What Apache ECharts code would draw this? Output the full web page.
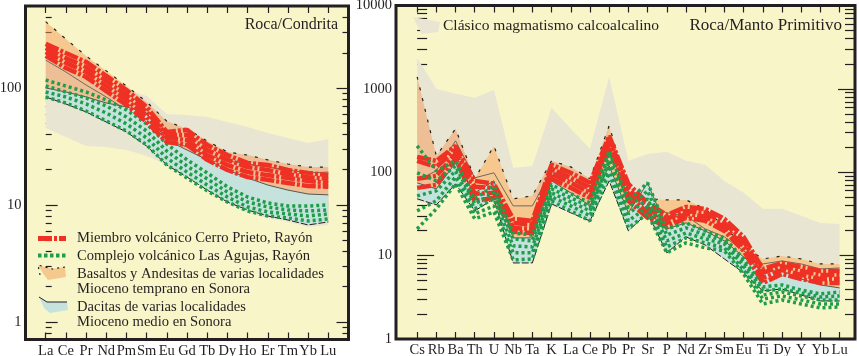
<!DOCTYPE html>
<html>
<head>
<meta charset="utf-8">
<script src="https://cdn.jsdelivr.net/npm/echarts@6/dist/echarts.min.js"></script>
<style>
html, body { margin: 0; padding: 0; background: #fff; }
#main { width: 859px; height: 356px; }
</style>
</head>
<body>
<div id="main"></div>
<script>
// ---- left panel: REE / chondrite ----
var reeLabels = ['La','Ce','Pr','Nd','Pm','Sm','Eu','Gd','Tb','Dy','Ho','Er','Tm','Yb','Lu'];

var reeCerroPrieto = [
    [238, 199, 167, 127, 96, 68.8, 42.1, 43.8, 32.6, 26.7, 22.9, 22.0, 19.9, 18.8, 18.0],
    [220, 180, 151, 115, 87, 62.4, 39.7, 39.7, 29.5, 24.3, 21.1, 19.9, 18.4, 17.3, 16.7],
    [203, 164, 137, 104, 79, 56.5, 37.4, 35.9, 26.7, 22.0, 19.1, 18.0, 17.0, 16.0, 15.4],
    [188, 148, 124, 94, 71.6, 51.2, 34.5, 32.6, 24.3, 19.9, 17.3, 16.4, 15.4, 14.5, 14.3]
];
var reeLasAgujas = [
    [117, 104, 92.4, 79.0, 64.9, 49.3, 33.2, 24.3, 18.8, 14.3, 11.7, 10.4, 9.80, 9.80, 10.0],
    [104, 92.4, 82.1, 70.2, 56.5, 42.9, 28.9, 21.5, 16.7, 12.9, 10.6, 9.61, 9.06, 8.89, 9.06],
    [92.4, 83.8, 73.0, 61.1, 49.3, 37.4, 25.2, 19.1, 14.8, 11.7, 9.61, 8.72, 8.38, 8.05, 8.38],
    [83.8, 74.4, 63.6, 52.2, 42.9, 32.6, 22.0, 17.0, 13.2, 10.6, 8.89, 8.05, 7.74, 7.30, 7.59]
];
var reeBasaltosTop = [369, 262, 188, 140, 104, 76, 52, 44.6, 35.2, 28.4, 26.7, 24.3, 22.4, 21.1, 21.1];
var reeBasaltosMid = [173, 137, 106, 83.8, 64.9, 51.2, 35.9, 31.3, 26.7, 23.8, 22.4, 21.1, 19.9, 18.8, 19.1];
var reeDacitasTop = [100, 92.4, 83.8, 74.4, 68.8, 61.1, 35.9, 29.5, 24.3, 19.9, 17.0, 14.8, 13.4, 12.4, 12.2];
var reeDacitasBottom = [83.8, 73.0, 62.4, 51.2, 42.1, 31.9, 22.0, 17.3, 13.4, 10.6, 9.06, 8.05, 7.44, 6.75, 7.16];
var reeCalcTop = [180, 143, 117, 104, 98, 85.5, 60, 58.8, 56.5, 51.2, 46.4, 41.2, 37.4, 33.9, 36.6];
var reeCalcBottom = [45.5, 38.1, 31.9, 31.3, 29.5, 26.2, 22.0, 18.0, 14.0, 10.4, 8.55, 7.74, 7.16, 6.49, 6.75];
var reeMajorTicks = [1, 10, 100];
var reeMinorTicks = [0.8, 0.9, 2, 3, 4, 5, 6, 7, 8, 9, 20, 30, 40, 50, 60, 70, 80, 90, 200, 300, 400];

// ---- right panel: rock / primitive mantle ----
var spiderLabels = ['Cs','Rb','Ba','Th','U','Nb','Ta','K','La','Ce','Pb','Pr','Sr','P','Nd','Zr','Sm','Eu','Ti','Dy','Y','Yb','Lu'];

var spiderCerroPrieto = [
    [153, 137, 207, 78.9, 72.6, 27.6, 26.1, 123, 98.4, 74.6, 273, 72.6, 42.9, 30.8, 38.4, 36.4, 27.6, 16.8, 6.92, 8.17, 7.32, 6.55, 6.55],
    [137, 116, 186, 66.8, 65.0, 24.7, 23.4, 110, 85.7, 65.0, 252, 63.2, 37.4, 27.6, 34.4, 32.6, 24.7, 15.0, 6.20, 7.52, 6.55, 5.87, 5.87],
    [83.4, 90.6, 166, 55.1, 56.6, 21.5, 20.9, 95.7, 74.6, 56.6, 225, 53.5, 32.6, 24.7, 31.7, 29.2, 22.1, 13.1, 5.40, 6.73, 5.87, 5.25, 5.25],
    [65.0, 70.6, 145, 45.4, 49.3, 19.3, 18.7, 83.4, 65.0, 49.3, 196, 45.4, 28.4, 22.1, 28.4, 26.1, 19.8, 11.4, 4.70, 6.03, 5.25, 4.70, 4.70]
];
var spiderLasAgujas = [
    [207, 104, 137, 48.0, 68.7, 18.7, 17.7, 70.6, 55.1, 42.9, 181, 45.4, 74.6, 20.9, 24.7, 19.8, 16.3, 9.13, 4.21, 4.45, 3.87, 3.47, 3.66],
    [98.4, 78.9, 119, 41.8, 56.6, 15.9, 15.0, 63.2, 49.3, 38.4, 157, 37.4, 59.8, 17.7, 21.5, 17.7, 15.0, 8.40, 3.77, 3.98, 3.56, 3.19, 3.28],
    [52.1, 59.8, 104, 36.4, 48.0, 13.1, 12.7, 56.6, 44.1, 34.4, 137, 31.7, 48.0, 15.0, 18.7, 15.9, 13.8, 7.52, 3.37, 3.66, 3.28, 2.94, 2.94],
    [34.4, 45.4, 88.1, 31.7, 39.5, 10.8, 10.8, 50.7, 39.5, 30.0, 119, 26.1, 38.4, 12.7, 16.3, 14.2, 12.4, 6.73, 3.02, 3.28, 2.94, 2.63, 2.63],
    [20.9, 36.4, 72.6, 27.6, 33.5, 8.88, 9.13, 45.4, 34.4, 26.1, 98.4, 21.5, 31.7, 10.8, 14.2, 12.4, 11.4, 6.03, 2.63, 2.94, 2.63, 2.36, 2.42]
];
var spiderBasaltosTop = [1397, 157, 332, 83.4, 207, 48.0, 52.1, 137, 116, 83.4, 361, 59.8, 48.0, 46.6, 46.6, 36.4, 22.1, 13.1, 9.13, 9.91, 9.13, 7.95, 7.95];
var spiderBasaltosMid = [80, 104, 238, 85.7, 98.4, 39.5, 39.5, 104, 78.9, 59.8, 207, 45.4, 39.5, 32.6, 30.0, 20.9, 16.8, 11.4, 7.95, 8.63, 7.95, 6.92, 7.11];
var spiderDacitasTop = [74.6, 63.2, 130, 56.6, 78.9, 16.3, 16.3, 78.9, 56.6, 39.5, 119, 32.6, 74.6, 20.9, 24.7, 19.8, 15.0, 9.64, 6.55, 6.55, 5.25, 4.45, 4.10];
var spiderDacitasBottom = [48.0, 40.6, 72.6, 34.4, 48.0, 8.17, 8.17, 41.8, 32.6, 26.1, 78.9, 19.8, 32.6, 10.8, 16.8, 13.4, 9.13, 6.20, 3.77, 3.98, 3.37, 2.86, 2.86];
var spiderCalcTop = [2362, 1003, 873, 782, 975, 113, 119, 593, 332, 191, 1397, 137, 166, 176, 137, 123, 78.8, 56.6, 36.4, 36.4, 30.0, 24.7, 24.0];
var spiderCalcBottom = [45.4, 39.5, 68.7, 83.4, 207, 49.3, 52.1, 39.5, 32.6, 24.7, 361, 59.8, 48.0, 46.6, 46.6, 36.4, 22.1, 13.1, 9.13, 9.91, 9.13, 7.95, 7.95];
var spiderMajorTicks = [1, 10, 100, 1000, 10000];
var spiderMinorTicks = [2, 3, 4, 5, 6, 7, 8, 9, 20, 30, 40, 50, 60, 70, 80, 90,
    200, 300, 400, 500, 600, 700, 800, 900, 2000, 3000, 4000, 5000, 6000, 7000, 8000, 9000];

var INK = '#231f20';
var BG = '#f8f6c9';
var GREY = '#e8e5d3';
var ORANGE = '#f39a55';
var BLUE = '#c5e3dc';
var RED = '#ee3124';
var GREEN = '#1f9d4a';
var FONT = 'Liberation Serif';

var chart = echarts.init(document.getElementById('main'));

function indexList(n) {
    var a = [];
    for (var i = 0; i < n; i++) a.push(i);
    return a;
}

function xAxes(gridIndex, labels, min, max, tickLen) {
    var idx = indexList(labels.length);
    var base = {
        type: 'value', gridIndex: gridIndex, min: min, max: max,
        axisLine: { show: false }, splitLine: { show: false }
    };
    return [
        Object.assign({}, base, {
            position: 'bottom',
            axisTick: { show: true, inside: true, length: tickLen, customValues: idx, lineStyle: { color: INK, width: 1.2 } },
            axisLabel: {
                customValues: idx, margin: 4, color: INK, fontFamily: FONT, fontSize: 14.5,
                formatter: function (v) { return labels[Math.round(v)]; }
            }
        }),
        Object.assign({}, base, {
            position: 'top',
            axisTick: { show: true, inside: true, length: tickLen, customValues: idx, lineStyle: { color: INK, width: 1.2 } },
            axisLabel: { show: false }
        })
    ];
}

function yAxes(gridIndex, min, max, majors, minors, majorLen, minorLen) {
    var base = {
        type: 'log', logBase: 10, gridIndex: gridIndex, min: min, max: max,
        axisLine: { show: false }, splitLine: { show: false }
    };
    function tick(vals, len) {
        return { show: true, inside: true, length: len, customValues: vals, lineStyle: { color: INK, width: 1.2 } };
    }
    return [
        Object.assign({}, base, {
            position: 'left', axisTick: tick(majors, majorLen),
            axisLabel: {
                customValues: majors, margin: 4, color: INK, fontFamily: FONT, fontSize: 14.5,
                formatter: function (v) { return String(Math.round(v)); }
            }
        }),
        Object.assign({}, base, { position: 'left', axisTick: tick(minors, minorLen), axisLabel: { show: false } }),
        Object.assign({}, base, { position: 'right', axisTick: tick(majors, majorLen), axisLabel: { show: false } }),
        Object.assign({}, base, { position: 'right', axisTick: tick(minors, minorLen), axisLabel: { show: false } })
    ];
}

// filled band between two boundaries
function field(xi, yi, upper, lower, fill, opacity, z) {
    return {
        type: 'custom', xAxisIndex: xi, yAxisIndex: yi, z: z, silent: true,
        data: [[0, upper[0]]],
        renderItem: function (params, api) {
            if (params.dataIndex !== 0) return;
            var pts = [];
            for (var i = 0; i < upper.length; i++) pts.push(api.coord([i, upper[i]]));
            for (var j = lower.length - 1; j >= 0; j--) pts.push(api.coord([j, lower[j]]));
            return { type: 'polygon', shape: { points: pts }, style: { fill: fill, opacity: opacity } };
        }
    };
}

function line(xi, yi, values, style, z) {
    return {
        type: 'line', xAxisIndex: xi, yAxisIndex: yi, z: z, silent: true,
        symbol: 'none',
        data: values.map(function (v, i) { return [i, v]; }),
        lineStyle: style
    };
}

var redStyle = { color: RED, width: 4.5, type: [14, 2, 3, 2], cap: 'butt' };
var greenStyle = { color: GREEN, width: 3.5, type: [3, 3], cap: 'butt' };
var dashStyle = { color: INK, width: 1.2, type: [3, 8] };
var midStyle = { color: '#6d6a64', width: 1 };
var blueTopStyle = { color: INK, width: 0.7 };
var blueBottomStyle = { color: INK, width: 1, type: [7, 2] };

function panelSeries(xi, yi, d, greenOnTop) {
    var s = [
        field(xi, yi, d.calcTop, d.calcBottom, GREY, 1, 1),
        field(xi, yi, d.basTop, d.dacBottom, ORANGE, 0.5, 2),
        line(xi, yi, d.basMid, midStyle, 3),
        line(xi, yi, d.basTop, dashStyle, 3),
        field(xi, yi, d.dacTop, d.dacBottom, BLUE, 1, 4),
        line(xi, yi, d.dacTop, blueTopStyle, 5),
        line(xi, yi, d.dacBottom, blueBottomStyle, 5)
    ];
    d.green.forEach(function (g) { s.push(line(xi, yi, g, greenStyle, greenOnTop ? 8 : 6)); });
    d.red.forEach(function (r) { s.push(line(xi, yi, r, redStyle, 7)); });
    return s;
}

var series = panelSeries(0, 0, {
    calcTop: reeCalcTop, calcBottom: reeCalcBottom,
    basTop: reeBasaltosTop, basMid: reeBasaltosMid,
    dacTop: reeDacitasTop, dacBottom: reeDacitasBottom,
    green: reeLasAgujas, red: reeCerroPrieto
}, false).concat(panelSeries(2, 4, {
    calcTop: spiderCalcTop, calcBottom: spiderCalcBottom,
    basTop: spiderBasaltosTop, basMid: spiderBasaltosMid,
    dacTop: spiderDacitasTop, dacBottom: spiderDacitasBottom,
    green: spiderLasAgujas, red: spiderCerroPrieto
}, true));

function txt(x, y, text, align, size) {
    return {
        type: 'text', z: 100, silent: true,
        style: { x: x, y: y, text: text, align: align || 'left', verticalAlign: 'middle',
            fill: INK, fontFamily: FONT, fontSize: size || 14.6 }
    };
}

chart.setOption({
    animation: false,
    grid: [
        { left: 25.5, top: 6, width: 323, height: 333.5, show: true, backgroundColor: BG,
          borderColor: INK, borderWidth: 3, outerBoundsMode: 'none', containLabel: false },
        { left: 396, top: 5.5, width: 459, height: 333.5, show: true, backgroundColor: BG,
          borderColor: INK, borderWidth: 3, outerBoundsMode: 'none', containLabel: false }
    ],
    xAxis: xAxes(0, reeLabels, -1, 15, 7).concat(xAxes(1, spiderLabels, -1.1, 22.8, 7)),
    yAxis: yAxes(0, 0.708, 502, reeMajorTicks, reeMinorTicks, 12, 6)
        .concat(yAxes(1, 1, 10000, spiderMajorTicks, spiderMinorTicks, 17, 10)),
    series: series,
    graphic: [
        txt(338, 25, 'Roca/Condrita', 'right', 16),
        txt(842, 26, 'Roca/Manto Primitivo', 'right', 17),
        txt(443, 26, 'Clásico magmatismo calcoalcalino', 'left', 15.5),
        { type: 'polygon', z: 100, silent: true,
          shape: { points: [[413, 17], [440, 22], [438, 32], [422, 34], [418, 27]] },
          style: { fill: GREY } },
        // left legend
        { type: 'line', z: 100, silent: true, shape: { x1: 38, y1: 238.5, x2: 66, y2: 238.5 },
          style: { stroke: RED, lineWidth: 5, lineDash: [14, 2, 3, 2] } },
        txt(77, 238, 'Miembro volcánico Cerro Prieto, Rayón'),
        { type: 'line', z: 100, silent: true, shape: { x1: 38, y1: 255.5, x2: 66, y2: 255.5 },
          style: { stroke: GREEN, lineWidth: 4, lineDash: [3.5, 2.5] } },
        txt(77, 256, 'Complejo volcánico Las Agujas, Rayón'),
        { type: 'polygon', z: 100, silent: true,
          shape: { points: [[38, 265], [52, 269], [65, 267], [66, 277], [48, 280], [44, 275]] },
          style: { fill: '#f5c98e' } },
        { type: 'polyline', z: 101, silent: true,
          shape: { points: [[40, 275], [38, 265], [52, 269], [65, 267]] },
          style: { stroke: INK, lineWidth: 1.2, lineDash: [2, 4], fill: null } },
        txt(77, 274, 'Basaltos y Andesitas de varias localidades'),
        txt(77, 289, 'Mioceno temprano en Sonora'),
        { type: 'polygon', z: 100, silent: true,
          shape: { points: [[39, 297], [47, 302], [67, 302], [68, 310], [50, 313], [44, 308]] },
          style: { fill: BLUE } },
        { type: 'polyline', z: 101, silent: true,
          shape: { points: [[39, 297], [47, 302], [67, 302]] },
          style: { stroke: INK, lineWidth: 1, fill: null } },
        txt(77, 307, 'Dacitas de varias localidades'),
        txt(77, 322, 'Mioceno medio en Sonora')
    ]
});
</script>
</body>
</html>
